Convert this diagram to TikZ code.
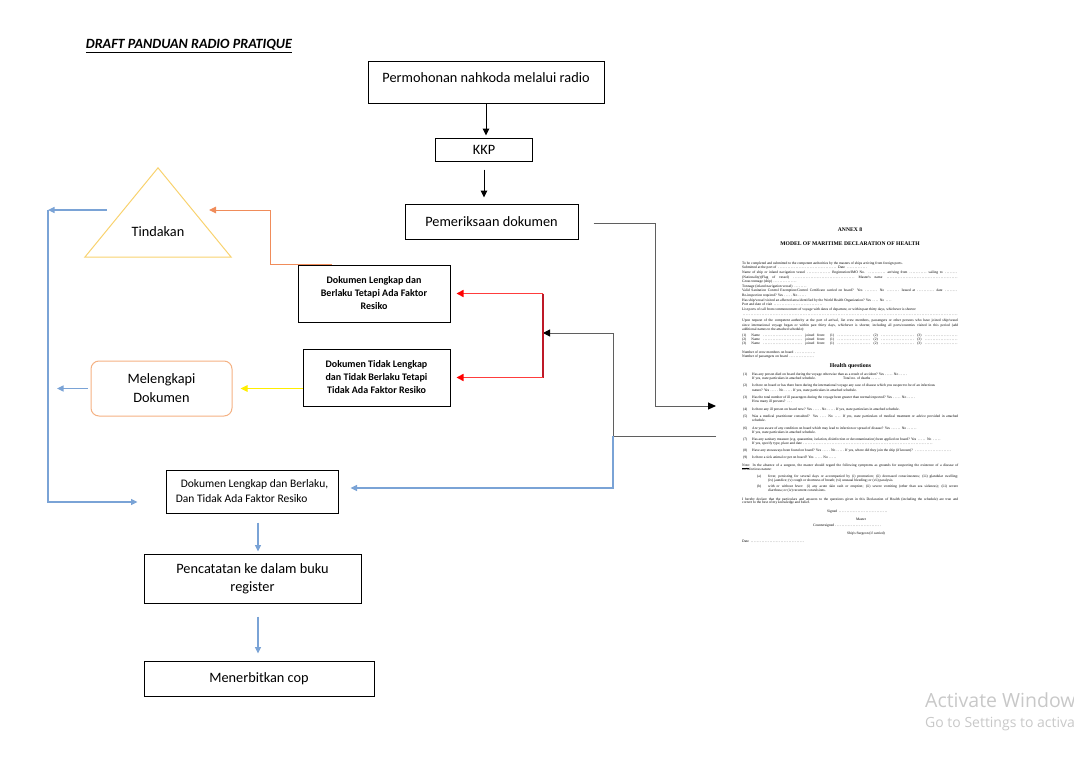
\documentclass[tikz,border=0pt]{standalone}
\usepackage{fontspec}
\setmainfont{Carlito}
\newfontfamily\docserif{Liberation Serif}
\newfontfamily\winfont{Open Sans}
\usetikzlibrary{arrows.meta, positioning}
\definecolor{arrowblue}{RGB}{122,163,214}
\definecolor{orangeline}{RGB}{240,140,90}
\definecolor{trigold}{RGB}{248,210,110}
\definecolor{peach}{RGB}{244,177,131}
\definecolor{darkred}{RGB}{190,25,40}
\definecolor{pinkred}{RGB}{255,60,60}
\definecolor{lineyellow}{RGB}{255,238,0}
\definecolor{linegray}{RGB}{95,95,95}
\definecolor{wmgray}{RGB}{200,200,200}
\newcommand{\annexfill}[1]{\makebox[#1pt]{\dotfill}}
\newcommand{\annexrow}[2]{\makebox[#1pt][s]{#2}}

\begin{document}
\begin{tikzpicture}[x=1pt, y=-1pt,
  box/.style      = {draw, line width=1pt, inner sep=2pt, align=center, font=\fontsize{14.3}{18}\selectfont},
  smallbox/.style = {box, font=\fontsize{10}{13}\selectfont\bfseries},
  tip/.style      = {-{Triangle[length=7pt,width=6.5pt]}},
  flow/.style     = {tip, line width=1pt},
  blueflow/.style = {-{Triangle[length=6.5pt,width=6pt]}, line width=1.1pt, arrowblue},
  redflow/.style  = {draw=pinkred, line width=1.5pt, -{Triangle[length=7pt,width=7pt,color=red]}, shorten >=6pt},
  docline/.style  = {anchor=west, inner sep=0pt, text height=2.5pt, text depth=0.8pt, font=\docserif\fontsize{3.6}{4.6}\selectfont},
  dochead/.style  = {inner sep=0pt, font=\docserif\bfseries\fontsize{5.6}{6}\selectfont}]

\useasboundingbox (0,0) rectangle (1074,768);

% title
\node[font=\fontsize{14.1}{16}\selectfont\bfseries\itshape] (title) at (189,46) {\underline{DRAFT PANDUAN RADIO PRATIQUE}};

% main column
\node[box, minimum width=236, minimum height=41, text height=10.5pt, text depth=11.5pt] (radio) at (486,82.5) {Permohonan nahkoda melalui radio};
\node[box, minimum width=97, minimum height=23, below=34pt of radio, xshift=-2pt] (kkp) {KKP};
\node[box, minimum width=173, minimum height=35, below=42pt of kkp, xshift=7.5pt] (periksa) {Pemeriksaan dokumen};

% results of the check
\node[smallbox, minimum width=152, minimum height=57] (resiko) at (374,293.5) {Dokumen Lengkap dan\\Berlaku Tetapi Ada Faktor\\Resiko};
\node[smallbox, minimum width=147, minimum height=57] (tidaklengkap) at (376.5,377.5) {Dokumen Tidak Lengkap\\dan Tidak Berlaku Tetapi\\Tidak Ada Faktor Resiko};
\node[box, draw=peach, rounded corners=8pt, minimum width=141, minimum height=55, font=\fontsize{14.3}{19}\selectfont] (lengkapi) at (161.5,388.5) {Melengkapi\\Dokumen};
\node[minimum width=146, minimum height=89, inner sep=0pt, text height=50pt, text depth=3pt, font=\fontsize{14.3}{18}\selectfont] (tindakan) at (158,212.5) {Tindakan};
\draw[trigold, line width=1pt] (tindakan.south west) -- (tindakan.north) -- (tindakan.south east) -- cycle;

% lower column
\node[box, minimum width=172, minimum height=43, align=left, font=\fontsize{11.5}{15}\selectfont] (lengkap) at (252,491.5) {\hspace*{5pt}Dokumen Lengkap dan Berlaku,\\Dan Tidak Ada Faktor Resiko};
\node[box, minimum width=217, minimum height=49, below=40pt of lengkap, xshift=0.5pt] (catat) {Pencatatan ke dalam buku\\register};
\node[box, minimum width=230, minimum height=35, below=57pt of catat, xshift=6.5pt] (terbit) {Menerbitkan cop};

% free ends of the connectors
\coordinate (annexin) at (716,406);
\coordinate (annexout) at (716,436);
\coordinate (split) at (613,436);
\coordinate (redtop) at (543,293.5);
\coordinate (redmid) at (543,333);
\coordinate (redbot) at (543,377.5);
\coordinate (tri in) at (209,210);
\coordinate (tri out) at (107,210);
\coordinate (rail) at (48,210);
\coordinate (lefttip) at (57,388.5);

% connectors
\draw[flow, shorten >=2pt] (radio.south) -- (radio.south |- kkp.north);
\draw[flow, shorten <=8pt, shorten >=6pt] (kkp.south) -- (kkp.south |- periksa.north);
\draw[linegray, line width=1pt, -{Triangle[length=8pt,width=7pt,color=black]}, shorten <=15pt] ([yshift=-1.5pt]periksa.east) -- ++(77,0) |- (annexin);
\draw[linegray, line width=1pt, -{Triangle[length=7pt,width=7pt,color=black]}] (annexout) -- (split) |- (redmid);
\draw[blueflow] (split) |- ([xshift=12pt, yshift=3.5pt]lengkap.east);
\draw[darkred, line width=1.3pt] (redtop) -- (redbot);
\draw[redflow] (redtop) -- (resiko.east);
\draw[redflow] (redbot) -- (tidaklengkap.east);
\draw[orangeline, line width=1pt, tip] ([xshift=34pt]resiko.north west) -| ([xshift=-27pt]resiko.north west |- tri in) -- (tri in);
\draw[lineyellow, line width=1pt, tip, shorten >=8pt] (tidaklengkap.west |- lengkapi) -- (lengkapi.east);
\draw[blueflow, shorten <=3pt] (lengkapi.west) -- (lefttip);
\draw[blueflow] (tri out) -- (rail);
\draw[blueflow] (rail) |- ([xshift=-28pt, yshift=-10.5pt]lengkap.west);
\draw[blueflow, shorten <=9pt, shorten >=2pt] ([xshift=6pt]lengkap.south) -- ([xshift=6pt]lengkap.south |- catat.north);
\draw[blueflow, shorten <=13pt, shorten >=7pt] ([xshift=5.5pt]catat.south) -- ([xshift=5.5pt]catat.south |- terbit.north);

% the declaration form (Annex 8)
\node[dochead] (annexno) at (850,230) {ANNEX 8};
\node[dochead] (annextitle) at (850,244) {MODEL OF MARITIME DECLARATION OF HEALTH};
\node[docline] (doc1) at (742,263.3) {To be completed and submitted to the competent authorities by the masters of ships arriving from foreign ports.};
\node[docline] (doc2) at (742,268) {Submitted at the port of \annexfill{60} Date \annexfill{22}};
\node[docline] (doc3) at (742,272.6) {\annexrow{216}{Name of ship or inland navigation vessel \annexfill{24} Registration/IMO No. \annexfill{18} arriving from \annexfill{18} sailing to \annexfill{14}}};
\node[docline] (doc4) at (742,277.2) {\annexrow{216}{(Nationality)(Flag of vessel) \annexfill{62} Master's name \annexfill{72}}};
\node[docline] (doc5) at (742,281.8) {Gross tonnage (ship) \annexfill{24}};
\node[docline] (doc6) at (742,286.4) {Tonnage (inland navigation vessel) \annexfill{14}};
\node[docline] (doc7) at (742,291) {\annexrow{216}{Valid Sanitation Control Exemption/Control Certificate carried on board? Yes \annexfill{14} No \annexfill{14} Issued at \annexfill{18} date \annexfill{14}}};
\node[docline] (doc8) at (742,295.6) {Re-inspection required? Yes \annexfill{8} No \annexfill{8}};
\node[docline] (doc9) at (742,300.2) {Has ship/vessel visited an affected area identified by the World Health Organization? Yes \annexfill{7} No \annexfill{7}};
\node[docline] (doc10) at (742,304.8) {Port and date of visit \annexfill{50}};
\node[docline] (doc11) at (742,309.3) {List ports of call from commencement of voyage with dates of departure, or within past thirty days, whichever is shorter:};
\node[docline] (doc12) at (742,315) {\annexfill{216}};
\node[docline] (doc13) at (742,321) {\annexrow{216}{Upon request of the competent authority at the port of arrival, list crew members, passengers or other persons who have joined ship/vessel}};
\node[docline] (doc14) at (742,325.5) {\annexrow{216}{since international voyage began or within past thirty days, whichever is shorter, including all ports/countries visited in this period (add}};
\node[docline] (doc15) at (742,330) {additional names to the attached schedule):};
\foreach \yy [count=\k] in {336,340,344}
  \node[docline] (crew\k) at (742,\yy) {\annexrow{216}{(\k)\hspace{5pt}Name \annexfill{40} joined from: (1) \annexfill{34} (2) \annexfill{34} (3) \annexfill{34}}};
\node[docline] (doc16) at (742,352.5) {Number of crew members on board \annexfill{22}};
\node[docline] (doc17) at (742,357) {Number of passengers on board \annexfill{26}};
\node[dochead, font=\docserif\bfseries\fontsize{5.8}{6}\selectfont] (healthq) at (850.5,366) {Health questions};

% health questions
\foreach \yy [count=\k] in {374.5,385.7,397.5,409.3,416.5,428.5,439.5,451,458}
  \node[docline] (qno\k) at (743,\yy) {(\k)};
\node[docline] (q1a) at (752,374.5) {Has any person died on board during the voyage otherwise than as a result of accident? Yes \annexfill{8} No \annexfill{8}};
\node[docline] (q1b) at (752,379) {\makebox[91pt][l]{If yes, state particulars in attached schedule.}Total no. of deaths \annexfill{10}};
\node[docline] (q2a) at (752,385.7) {Is there on board or has there been during the international voyage any case of disease which you suspect to be of an infectious};
\node[docline] (q2b) at (752,390.5) {nature? Yes \annexfill{8} No \annexfill{8} If yes, state particulars in attached schedule.};
\node[docline] (q3a) at (752,397.5) {Has the total number of ill passengers during the voyage been greater than normal/expected? Yes \annexfill{8} No \annexfill{8}};
\node[docline] (q3b) at (752,402) {How many ill persons? \annexfill{6}};
\node[docline] (q4) at (752,409.3) {Is there any ill person on board now? Yes \annexfill{8} No \annexfill{8} If yes, state particulars in attached schedule.};
\node[docline] (q5a) at (752,416.5) {\annexrow{206}{Was a medical practitioner consulted? Yes \annexfill{7} No \annexfill{7} If yes, state particulars of medical treatment or advice provided in attached}};
\node[docline] (q5b) at (752,420.5) {schedule.};
\node[docline] (q6a) at (752,428.5) {Are you aware of any condition on board which may lead to infection or spread of disease? Yes \annexfill{10} No \annexfill{10}};
\node[docline] (q6b) at (752,432.7) {If yes, state particulars in attached schedule.};
\node[docline] (q7a) at (752,439.5) {Has any sanitary measure (e.g.\ quarantine, isolation, disinfection or decontamination) been applied on board? Yes \annexfill{9} No \annexfill{9}};
\node[docline] (q7b) at (752,444) {If yes, specify type, place and date \annexfill{130}};
\node[docline] (q8) at (752,451) {Have any stowaways been found on board? Yes \annexfill{8} No \annexfill{8} If yes, where did they join the ship (if known)? \annexfill{38}};
\node[docline] (q9) at (752,458) {Is there a sick animal or pet on board? Yes \annexfill{8} No \annexfill{8}};

% note and signatures
\node[docline] (note1) at (742,466) {\annexrow{216}{\underline{Note}: In the absence of a surgeon, the master should regard the following symptoms as grounds for suspecting the existence of a disease of}};
\node[docline] (note2) at (742,470) {an infectious nature:};
\node[docline] (marka) at (757,476.7) {(a)};
\node[docline] (markb) at (757,486.7) {(b)};
\node[docline] (sa1) at (768,476.7) {\annexrow{190}{fever, persisting for several days or accompanied by (i) prostration; (ii) decreased consciousness; (iii) glandular swelling;}};
\node[docline] (sa2) at (768,480.5) {(iv) jaundice; (v) cough or shortness of breath; (vi) unusual bleeding; or (vii) paralysis.};
\node[docline] (sb1) at (768,486.7) {\annexrow{190}{with or without fever: (i) any acute skin rash or eruption; (ii) severe vomiting (other than sea sickness); (iii) severe}};
\node[docline] (sb2) at (768,491) {diarrhoea; or (iv) recurrent convulsions.};
\node[docline] (decl1) at (742,499.3) {\annexrow{216}{I hereby declare that the particulars and answers to the questions given in this Declaration of Health (including the schedule) are true and}};
\node[docline] (decl2) at (742,503) {correct to the best of my knowledge and belief.};
\node[docline] (signed) at (827,512) {Signed \annexfill{50}};
\node[docline, anchor=center] (master) at (861,519.3) {Master};
\node[docline] (counter) at (813,526) {Countersigned \annexfill{46}};
\node[docline, anchor=center] (surgeon) at (866,533.7) {Ship's Surgeon (if carried)};
\node[docline] (date) at (742,541.7) {Date \annexfill{55}};

% screen watermark, as far as it shows
\node[anchor=base west, inner sep=0pt, text=wmgray, font=\winfont\fontsize{19.5}{21}\selectfont] (wm1) at (925,707) {Activate Window};
\node[anchor=base west, inner sep=0pt, text=wmgray, font=\winfont\fontsize{14}{16}\selectfont] (wm2) at (925,727) {Go to Settings to activa};

\end{tikzpicture}
\end{document}
